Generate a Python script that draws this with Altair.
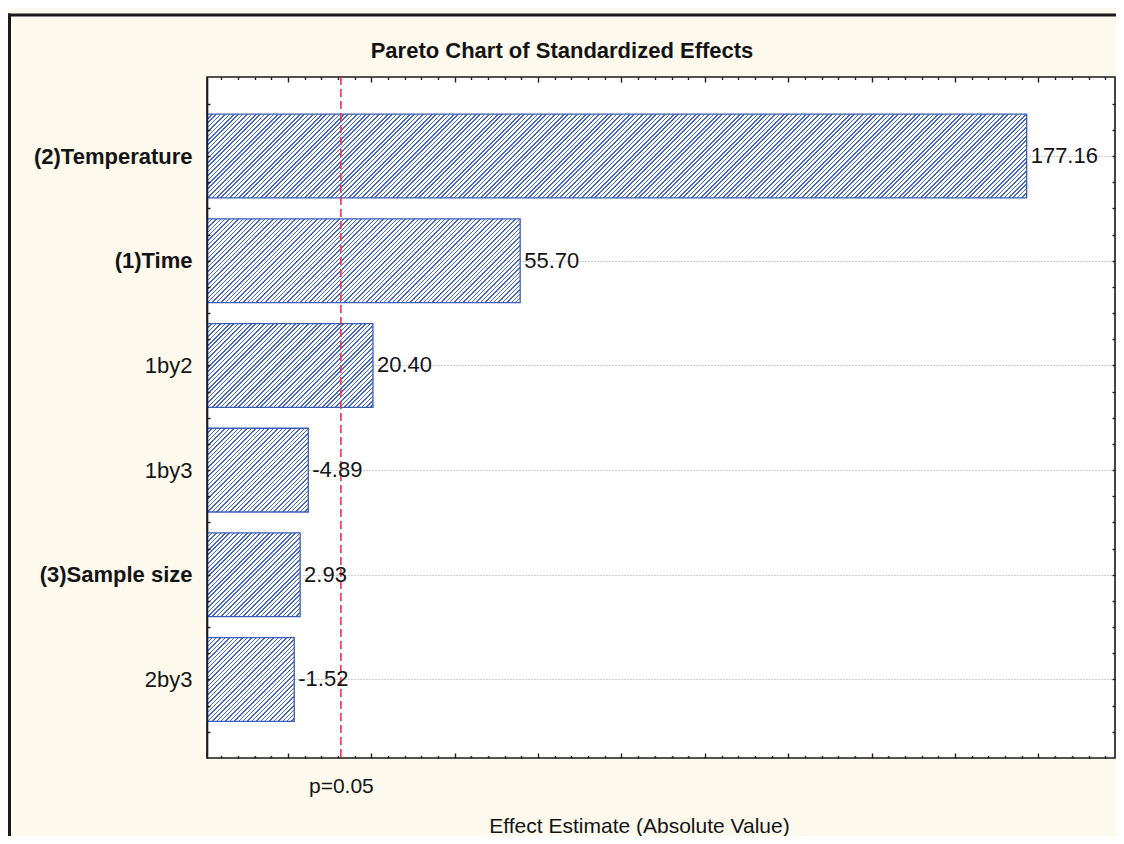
import json
import altair as alt
import pandas as pd

# ---------------- data ----------------
factors = ["(2)Temperature", "(1)Time", "1by2", "1by3", "(3)Sample size", "2by3"]
effects = [177.16, 55.70, 20.40, -4.89, 2.93, -1.52]
p_crit = [12.706]
p_label = "p=0.05"
chart_title = "Pareto Chart of Standardized Effects"
x_title = "Effect Estimate (Absolute Value)"
x_major = list(range(0, 181, 20))
x_minor = [v for v in range(-16, 197, 4) if v % 20 != 0]
y_quarter = [i / 4 for i in range(-2, 23)]

# ---------------- layout / style ----------------
W, H = 908, 681
PAD = {"left": 199, "top": 69, "right": 1, "bottom": 78}
X_LO = -19.4
PX_PER_UNIT = 4.17
X_HI = X_LO + W / PX_PER_UNIT
Y_LO, Y_HI = -0.755, 5.75
HALF = 0.4
FONT = "Liberation Sans, Arial, sans-serif"
TXT = "#141414"
CREAM = "#fdf9ed"
STRIPE = "#4468c4"
EDGE = "#3a5db8"
FRAME = "#1a1a1a"

df = pd.DataFrame({"factor": factors, "effect": effects})
df["idx"] = range(len(factors))

xscale = alt.Scale(domain=[X_LO, X_HI], nice=False, zero=False)
yscale = alt.Scale(domain=[Y_LO, Y_HI], nice=False, zero=False, reverse=True)

kx = W / (X_HI - X_LO)
ky = H / (Y_HI - Y_LO)


def hatch(w, h, period=4.4, stripe=1.5):
    """Diagonal '/' hatch as a linear gradient in bounding-box units."""
    L = w + h
    c = L / (w * w + h * h)
    stops = []
    i = 0
    while i * period < L:
        a = i * period / L
        b = min((i * period + stripe) / L, 1.0)
        stops += [
            {"offset": round(a, 6), "color": "white"},
            {"offset": round(a, 6), "color": STRIPE},
            {"offset": round(b, 6), "color": STRIPE},
            {"offset": round(b, 6), "color": "white"},
        ]
        i += 1
    return {"gradient": "linear", "x1": 0, "y1": 0,
            "x2": round(c * w, 6), "y2": round(c * h, 6), "stops": stops}


grads = [hatch((abs(e) - X_LO) * kx, 2 * HALF * ky) for e in effects]
fill_enc = alt.value(
    grads[-1],
    condition=[{"test": f"datum.idx == {i}", "value": grads[i]} for i in range(len(grads) - 1)],
)


def tick_axis(orient, values, size):
    return alt.Axis(orient=orient, values=values, labels=False, ticks=True,
                    tickSize={"expr": str(-size)}, tickColor=FRAME, tickWidth=1.4,
                    domain=False, grid=False, title=None, zindex=1)


bold_idx = [i for i, f in enumerate(factors) if f.startswith("(")]
y_label_axis = alt.Axis(
    orient="left", values=list(range(len(factors))),
    labelExpr=f"{json.dumps(factors)}[datum.value]",
    labelFont=FONT, labelFontSize=22, labelColor=TXT,
    labelFontWeight={"condition": {"test": f"indexof({bold_idx}, datum.value) >= 0", "value": "bold"},
                     "value": "normal"},
    labelPadding=15, labelLimit=400, labelOverlap=False,
    ticks=False, tickSize=0, domain=False,
    grid=True, gridDash=[1, 2], gridColor="#9c9c9c", gridWidth=1,
    title=None, zindex=0,
)

y_left_ticks = alt.Axis(orient="left", values=y_quarter, labels=False, ticks=True,
                        tickSize={"expr": "-3"}, tickColor=FRAME, tickWidth=1.4,
                        domain=True, domainColor=FRAME, domainWidth=1.6,
                        grid=False, title=None, zindex=1)

p_axis = alt.Axis(
    orient="bottom", values=p_crit, labelExpr=f"'{p_label}'",
    labelFont=FONT, labelFontSize=21, labelColor=TXT, labelPadding=17,
    labelFlush=False, labelOverlap=False,
    ticks=False, tickSize=0, domain=False, grid=False,
    title=x_title, titleFont=FONT, titleFontSize=21, titleFontWeight="normal",
    titleColor=TXT, titleX=432, titleY=74, titleAlign="center", titleBaseline="alphabetic",
)

base = alt.Chart(df).transform_calculate(
    mag="abs(datum.effect)",
    y0=f"datum.idx - {HALF}",
    y1=f"datum.idx + {HALF}",
    lab="replace(format(datum.effect, '.2f'), '\u2212', '-')",
)

frame_src = alt.Chart(pd.DataFrame({"frame": [0]}))
frame_top = frame_src.mark_rule(color=FRAME, strokeWidth=3).encode(
    x=alt.value(-199), x2=alt.value(W + PAD["right"]), y=alt.value(-62),
)
frame_left = frame_src.mark_rule(color=FRAME, strokeWidth=3).encode(
    x=alt.value(-197.5), y=alt.value(-63.5), y2=alt.value(H + PAD["bottom"]),
)

bars = base.mark_rect(stroke=EDGE, strokeWidth=1.3).encode(
    x=alt.X("mag:Q", scale=xscale, axis=tick_axis("bottom", x_major, 5)),
    x2=alt.datum(X_LO),
    y=alt.Y("y0:Q", scale=yscale, axis=y_label_axis),
    y2="y1:Q",
    fill=fill_enc,
)

prule = alt.Chart(pd.DataFrame({"p": p_crit})).mark_rule(
    color="#f0304a", strokeDash=[8, 4], strokeWidth=1.6
).encode(x=alt.X("p:Q", scale=xscale, axis=p_axis))

texts = base.mark_text(
    align="left", baseline="middle", dx=4, font=FONT, fontSize=22, color=TXT
).encode(
    x=alt.X("mag:Q", scale=xscale, axis=tick_axis("top", x_major, 5)),
    y=alt.Y("idx:Q", scale=yscale, axis=tick_axis("right", y_quarter, 3)),
    text="lab:N",
)

ghost1 = base.mark_point(opacity=0).encode(
    x=alt.X("mag:Q", scale=xscale, axis=tick_axis("bottom", x_minor, 2.5)),
    y=alt.Y("idx:Q", scale=yscale, axis=y_left_ticks),
)

ghost2 = base.mark_point(opacity=0).encode(
    x=alt.X("mag:Q", scale=xscale, axis=tick_axis("top", x_minor, 2.5)),
)

chart = alt.layer(frame_top, frame_left, bars, prule, texts, ghost1, ghost2).resolve_axis(
    x="independent", y="independent"
).properties(
    width=W, height=H,
    autosize=alt.AutoSizeParams(type="none"),
    padding=PAD,
    background=CREAM,
    title=alt.TitleParams(text=chart_title, font=FONT, fontSize=22, fontWeight="bold",
                          color=TXT, anchor="middle", baseline="alphabetic",
                          offset=0, dx=-99, dy=67.5),
).configure_view(fill="white", stroke=FRAME, strokeWidth=1.6)

chart.save("out.html", embed_options={"renderer": "svg", "actions": False})
